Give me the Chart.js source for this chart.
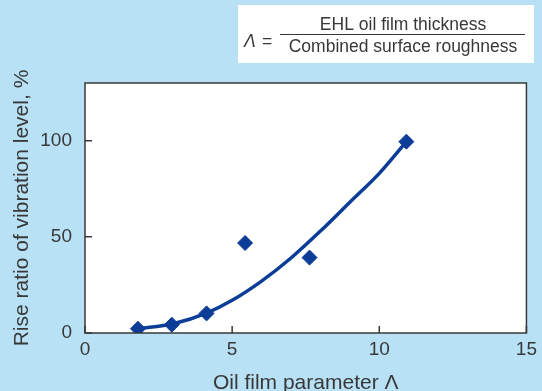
<!DOCTYPE html>
<html>
<head>
<meta charset="utf-8">
<script src="https://cdn.jsdelivr.net/npm/chart.js@4/dist/chart.umd.min.js"></script>
<style>
  html, body { margin: 0; padding: 0; background: #b8e1f6; }
  #wrap { width: 542px; height: 391px; position: relative; }
</style>
</head>
<body>
<div id="wrap"><canvas id="c" width="542" height="391"></canvas></div>
<script>
// Measured vibration rise vs. oil film parameter
const lambdaValues = [1.8, 2.95, 4.13, 5.44, 7.63, 10.92];
const riseValues = [2.2, 4.3, 10.2, 46.8, 39.2, 99.5];

// Fitted trend curve
const fitLambda = [1.8, 3.0, 4.15, 5.0, 6.0, 7.0, 8.0, 9.0, 10.0, 10.92];
const fitRise = [2.2, 4.8, 10.5, 17, 27, 39, 53, 68, 83, 99.5];

// Axis ticks
const xTickValues = [0, 5, 10, 15];
const yTickValues = [0, 50, 100];

const ink = '#383838';
const markBlue = '#0b3d98';
const fontFamily = '"Liberation Sans", Arial, sans-serif';

const toPoints = (xs, ys) => xs.map((x, i) => ({ x: x, y: ys[i] }));

// White plot face and frame with inward tick marks
const framePlugin = {
  id: 'frame',
  beforeDatasetsDraw(chart) {
    const { ctx, chartArea: a } = chart;
    ctx.save();
    ctx.fillStyle = '#ffffff';
    ctx.fillRect(a.left, a.top, a.right - a.left, a.bottom - a.top);
    ctx.restore();
  },
  afterDatasetsDraw(chart) {
    const { ctx, chartArea: a, scales } = chart;
    ctx.save();
    ctx.strokeStyle = ink;
    ctx.lineWidth = 1.5;
    ctx.strokeRect(a.left, a.top, a.right - a.left, a.bottom - a.top);
    ctx.beginPath();
    yTickValues.forEach(v => {
      const y = scales.y.getPixelForValue(v);
      ctx.moveTo(a.left, y);
      ctx.lineTo(a.left + 7, y);
    });
    xTickValues.forEach(v => {
      const x = scales.x.getPixelForValue(v);
      ctx.moveTo(x, a.bottom);
      ctx.lineTo(x, a.bottom - 7);
    });
    ctx.stroke();
    ctx.restore();
  }
};

// Definition box for the oil film parameter
const formulaPlugin = {
  id: 'formula',
  afterDraw(chart) {
    const { ctx } = chart;
    ctx.save();
    ctx.fillStyle = '#ffffff';
    ctx.fillRect(238, 5, 296, 58);
    ctx.fillStyle = ink;
    ctx.textBaseline = 'middle';
    ctx.font = 'italic 17.5px ' + fontFamily;
    ctx.textAlign = 'left';
    ctx.fillText('Λ', 244, 42);
    ctx.font = '17.5px ' + fontFamily;
    ctx.fillText('=', 262, 42);
    ctx.textAlign = 'center';
    ctx.fillText('EHL oil film thickness', 403, 25);
    ctx.fillText('Combined surface roughness', 403, 47);
    ctx.strokeStyle = ink;
    ctx.lineWidth = 1.2;
    ctx.beginPath();
    ctx.moveTo(280, 34.5);
    ctx.lineTo(525, 34.5);
    ctx.stroke();
    ctx.restore();
  }
};

new Chart(document.getElementById('c'), {
  type: 'scatter',
  data: {
    datasets: [
      {
        data: toPoints(fitLambda, fitRise),
        showLine: true,
        borderColor: markBlue,
        borderWidth: 3.5,
        pointRadius: 0,
        cubicInterpolationMode: 'monotone',
        order: 2
      },
      {
        data: toPoints(lambdaValues, riseValues),
        showLine: false,
        pointStyle: 'rectRot',
        pointRadius: 7.5,
        backgroundColor: markBlue,
        borderColor: markBlue,
        borderWidth: 1,
        order: 1
      }
    ]
  },
  options: {
    responsive: false,
    animation: false,
    events: [],
    layout: { padding: { left: 0, top: 83, right: 10, bottom: 0 } },
    plugins: { legend: { display: false }, tooltip: { enabled: false } },
    scales: {
      x: {
        type: 'linear',
        min: 0,
        max: 15,
        afterFit(s) { s.height = 58; },
        afterBuildTicks(s) { s.ticks = xTickValues.map(v => ({ value: v })); },
        grid: { display: false, drawTicks: false },
        border: { display: false },
        ticks: {
          color: ink,
          padding: 5,
          font: { family: fontFamily, size: 19 },
          maxRotation: 0
        },
        title: {
          display: true,
          text: 'Oil film parameter Λ',
          color: ink,
          font: { family: fontFamily, size: 21, lineHeight: 0.7 },
          padding: { top: 0, bottom: 0 }
        }
      },
      y: {
        type: 'linear',
        min: 0,
        max: 130,
        afterFit(s) { s.width = 85; },
        afterBuildTicks(s) { s.ticks = yTickValues.map(v => ({ value: v })); },
        grid: { display: false, drawTicks: false },
        border: { display: false },
        ticks: {
          color: ink,
          padding: 13,
          font: { family: fontFamily, size: 19 }
        },
        title: {
          display: true,
          text: 'Rise ratio of vibration level, %',
          color: ink,
          font: { family: fontFamily, size: 21, lineHeight: 1 },
          padding: { top: 12, bottom: 0 }
        }
      }
    }
  },
  plugins: [framePlugin, formulaPlugin]
});
</script>
</body>
</html>
